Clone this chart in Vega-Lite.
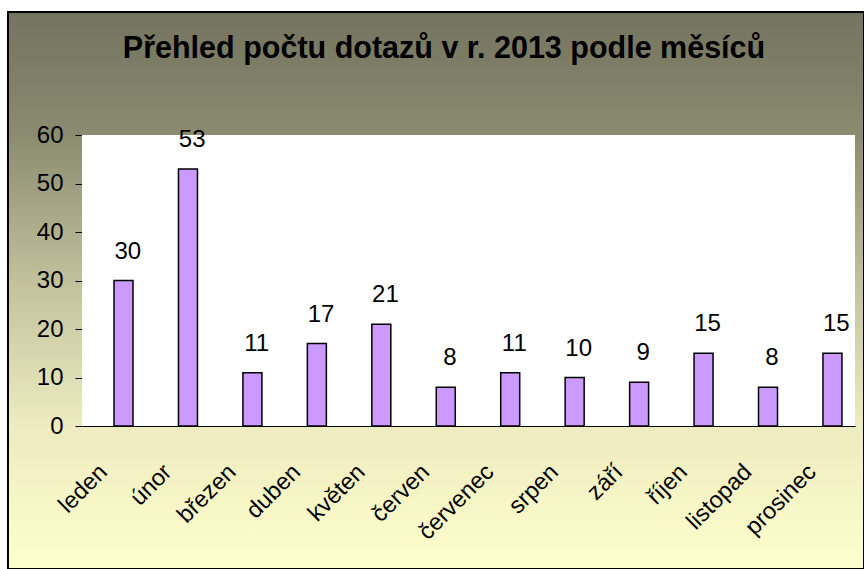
{
  "$schema": "https://vega.github.io/schema/vega-lite/v6.json",
  "autosize": "none",
  "width": 856,
  "height": 557,
  "padding": {"left": 8, "top": 12, "right": 0, "bottom": 0},
  "background": "#ffffff",
  "config": {
    "view": {
      "fill": {"gradient": "linear", "x1": 0, "y1": 0, "x2": 0, "y2": 1,
        "stops": [
          {"offset": 0, "color": "#737360"},
          {"offset": 0.22, "color": "#8b8b70"},
          {"offset": 0.5, "color": "#c5c49f"},
          {"offset": 0.74, "color": "#edebbf"},
          {"offset": 1, "color": "#ffffcd"}
        ]},
      "stroke": "#000000",
      "strokeWidth": 2
    },
    "font": "Liberation Sans"
  },
  "title": {
    "text": "Přehled počtu dotazů v r. 2013 podle měsíců",
    "font": "Liberation Sans",
    "fontSize": 30.5,
    "fontWeight": "bold",
    "color": "#000000",
    "anchor": "middle",
    "frame": "group",
    "baseline": "alphabetic",
    "offset": -76,
    "dx": 8
  },
  "data": {
    "values": [
      {"month": "leden", "count": 30},
      {"month": "únor", "count": 53},
      {"month": "březen", "count": 11},
      {"month": "duben", "count": 17},
      {"month": "květen", "count": 21},
      {"month": "červen", "count": 8},
      {"month": "červenec", "count": 11},
      {"month": "srpen", "count": 10},
      {"month": "září", "count": 9},
      {"month": "říjen", "count": 15},
      {"month": "listopad", "count": 8},
      {"month": "prosinec", "count": 15}
    ]
  },
  "layer": [
    {
      "mark": {"type": "rect", "fill": "#ffffff", "stroke": null},
      "encoding": {
        "x": {"datum": 0, "type": "quantitative", "scale": {"domain": [0, 1], "range": [74, 847]}, "axis": null},
        "x2": {"datum": 1},
        "y": {"datum": 60, "type": "quantitative"},
        "y2": {"datum": 0}
      }
    },
    {
      "mark": {"type": "bar", "fill": "#cc99ff", "stroke": "#000000", "strokeWidth": 1.5},
      "encoding": {
        "x": {
          "field": "month", "type": "nominal", "sort": null,
          "scale": {"range": [74, 847], "paddingInner": 0.7052, "paddingOuter": 0.3496, "align": 0.7105},
          "axis": {
            "title": null,
            "orient": "bottom",
            "offset": -143,
            "ticks": false,
            "tickSize": 0,
            "domainColor": "#000000",
            "domainWidth": 1,
            "labelAngle": -45,
            "labelAlign": "right",
            "labelBaseline": "middle",
            "labelOffset": -20,
            "labelPadding": 42,
            "labelFont": "Liberation Sans",
            "labelFontSize": 23.5,
            "labelColor": "#000000"
          }
        },
        "y": {
          "field": "count", "type": "quantitative",
          "scale": {"domain": [0, 60], "range": [414, 123], "nice": false},
          "axis": {
            "title": null,
            "orient": "left",
            "offset": -74,
            "values": [0, 10, 20, 30, 40, 50, 60],
            "grid": false,
            "domainColor": "#333333",
            "domainWidth": 1,
            "tickColor": "#000000",
            "tickSize": 7,
            "labelPadding": 12,
            "labelFont": "Liberation Sans",
            "labelFontSize": 24,
            "labelColor": "#000000"
          }
        }
      }
    },
    {
      "mark": {"type": "text", "font": "Liberation Sans", "fontSize": 24, "color": "#000000", "baseline": "alphabetic", "dy": -22},
      "encoding": {
        "x": {
          "field": "month", "type": "nominal", "sort": null,
          "scale": {"range": [74, 847], "paddingInner": 0.7052, "paddingOuter": 0.3496, "align": 0.7105},
          "axis": null
        },
        "y": {"field": "count", "type": "quantitative"},
        "text": {"field": "count", "type": "quantitative"}
      }
    }
  ],
  "resolve": {"scale": {"x": "independent"}, "axis": {"x": "independent"}}
}
